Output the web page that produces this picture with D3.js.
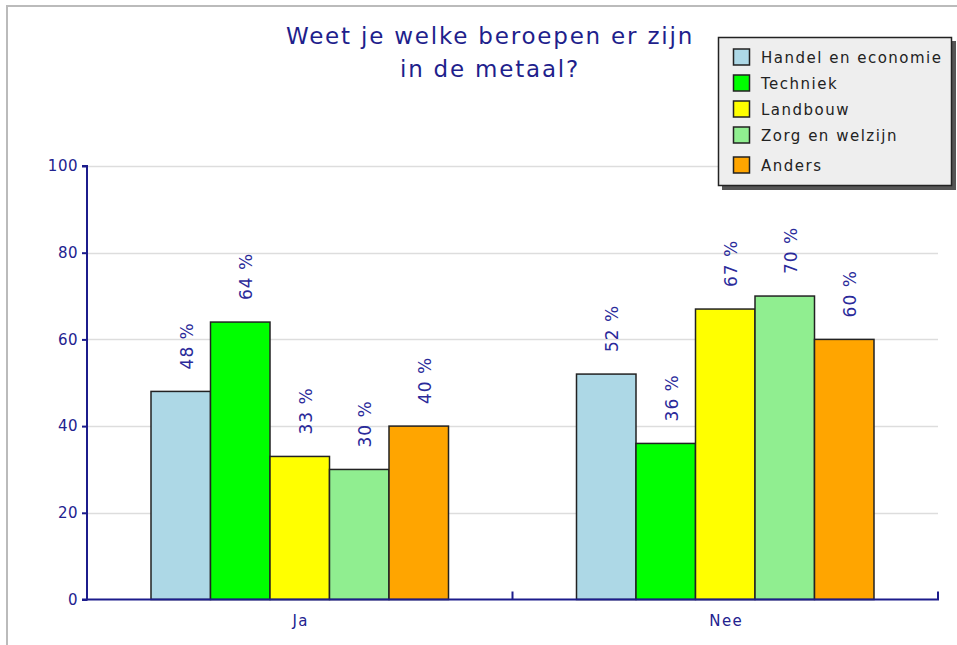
<!DOCTYPE html>
<html><head><meta charset="utf-8">
<script src="https://cdn.jsdelivr.net/npm/d3@7"></script>
<style>body{margin:0;background:#fff;} svg{display:block;font-family:"DejaVu Sans",Verdana,sans-serif;}</style>
</head><body>
<svg id="c" width="957" height="645"></svg>
<script>
const categories = ["Ja", "Nee"];
const seriesNames = ["Handel en economie", "Techniek", "Landbouw", "Zorg en welzijn", "Anders"];
const seriesColors = ["#add8e6", "#00ff00", "#ffff00", "#90ee90", "#ffa500"];
const valuesJa  = [48, 64, 33, 30, 40];
const valuesNee = [52, 36, 67, 70, 60];
const yTicks = [0, 20, 40, 60, 80, 100];
const titleLines = ["Weet je welke beroepen er zijn", "in de metaal?"];

const svg = d3.select("#c");
const axisColor = "#1c1c8c";
const textColor = "#22228f";

// frame
svg.append("path").attr("d","M7,645V6H957").attr("fill","none").attr("stroke","#bbbbbb").attr("stroke-width",2);

const m = {left:87, right:938, top:166, bottom:599.5};
const x0 = d3.scaleBand().domain(categories).range([m.left, m.right]).padding(0);
const x1 = d3.scaleBand().domain(seriesNames).range([64, x0.bandwidth()-64]).padding(0);
const y = d3.scaleLinear().domain([0,100]).range([m.bottom, m.top]);

// grid
svg.append("g").selectAll("line").data(yTicks.slice(1)).join("line")
  .attr("x1", m.left).attr("x2", m.right)
  .attr("y1", d=>Math.round(y(d))+0.5).attr("y2", d=>Math.round(y(d))+0.5)
  .attr("stroke","#dddddd").attr("stroke-width",1.5);

const data = categories.map((c,i)=>({cat:c, vals:(i===0?valuesJa:valuesNee)}));
const g = svg.append("g");
data.forEach(d=>{
  d.vals.forEach((v,j)=>{
    const bx = x0(d.cat)+x1(seriesNames[j]);
    g.append("rect").attr("x",bx).attr("y",y(v)).attr("width",x1.bandwidth()).attr("height",y(0)-y(v))
      .attr("fill",seriesColors[j]).attr("stroke","#222").attr("stroke-width",1.5);
    const cx = bx + x1.bandwidth()/2;
    g.append("text").attr("transform",`translate(${cx+12},${y(v)-22}) rotate(-90)`)
      .attr("fill","#2a2a9a").attr("font-size",17).attr("letter-spacing",1)
      .text(v+" %");
  });
});

// y axis
const yAxis = d3.axisLeft(y).tickValues(yTicks).tickSize(5).tickPadding(4);
const ya = svg.append("g").attr("transform",`translate(${m.left},0)`).call(yAxis);
ya.select(".domain").attr("stroke",axisColor).attr("stroke-width",2).attr("d",`M-5,${m.top}H0V${m.bottom}H-5`);
ya.selectAll(".tick line").attr("stroke",axisColor).attr("stroke-width",2);
ya.selectAll(".tick text").attr("fill",textColor).attr("font-size",15).attr("letter-spacing",0.5).attr("font-family","DejaVu Sans");

// x axis
const xa = svg.append("g").attr("transform",`translate(0,${m.bottom})`);
xa.append("line").attr("x1",m.left).attr("x2",m.right+1).attr("y1",0).attr("y2",0).attr("stroke",axisColor).attr("stroke-width",2);
[m.left + x0.bandwidth(), m.right].forEach(px=>{
  xa.append("line").attr("x1",px).attr("x2",px).attr("y1",0).attr("y2",-8).attr("stroke",axisColor).attr("stroke-width",2);
});
xa.selectAll("text").data(categories).join("text")
  .attr("x",d=>x0(d)+x0.bandwidth()/2+1).attr("y",26.5).attr("text-anchor","middle")
  .attr("fill",textColor).attr("font-size",15).attr("letter-spacing",1.5).text(d=>d);

// title
svg.append("g").selectAll("text").data(titleLines).join("text")
  .attr("x",490).attr("y",(d,i)=>43.5+i*33.3).attr("text-anchor","middle")
  .attr("fill","#1f1f8c").attr("font-size",23).attr("letter-spacing",1.8).text(d=>d);

// legend
const lg = svg.append("g");
lg.append("rect").attr("x",722).attr("y",41).attr("width",234).attr("height",149).attr("fill","#555");
lg.append("rect").attr("x",718.5).attr("y",37.5).attr("width",233).attr("height",148).attr("fill","#eeeeee").attr("stroke","#222").attr("stroke-width",1.5);
const rowY = [57, 83, 109, 135, 165];
seriesNames.forEach((s,i)=>{
  lg.append("rect").attr("x",733.5).attr("y",rowY[i]-8).attr("width",16).attr("height",16)
    .attr("fill",seriesColors[i]).attr("stroke","#222").attr("stroke-width",1.5);
  lg.append("text").attr("x",761).attr("y",rowY[i]+5.5).attr("fill","#222").attr("font-size",15).attr("letter-spacing",1.5).text(s);
});
</script>
</body></html>
